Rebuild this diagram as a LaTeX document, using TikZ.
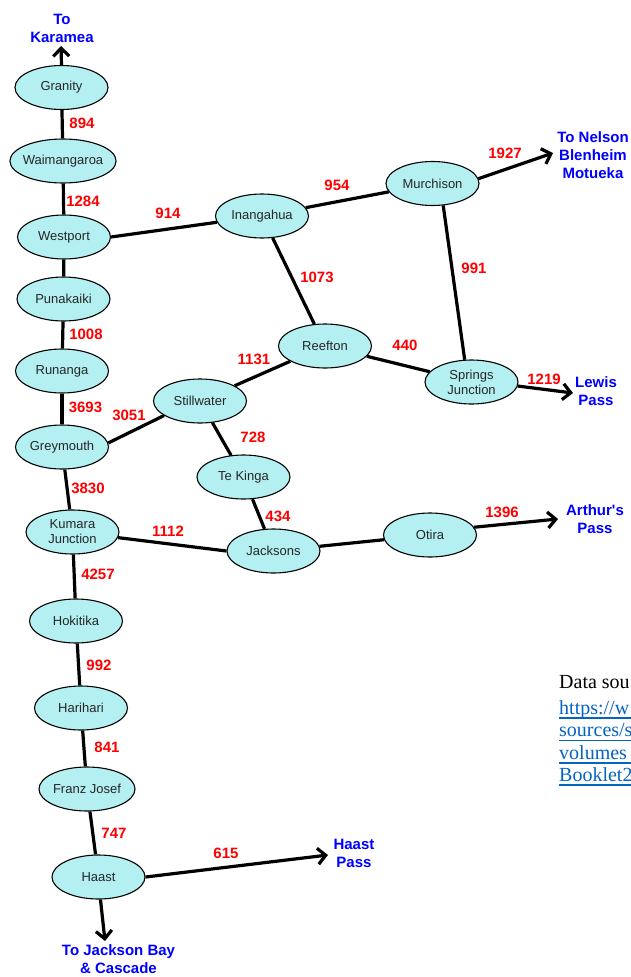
\documentclass[tikz,border=0pt]{standalone}
\usepackage{fontspec}
\setmainfont{Liberation Sans}
\newfontfamily\datafont{Liberation Serif}
\usetikzlibrary{shapes.geometric,arrows.meta}
\definecolor{nodefill}{RGB}{180,240,242}
\definecolor{numred}{RGB}{255,0,0}
\definecolor{dirblue}{RGB}{0,0,255}
\definecolor{linkblue}{RGB}{5,99,193}
\begin{document}
\begin{tikzpicture}[x=1pt,y=-1pt,
  town/.style={ellipse,draw=black,line width=1.1pt,fill=nodefill,minimum width=93pt,minimum height=44pt,inner sep=0pt,font=\fontsize{13}{15}\selectfont,align=center,text=black!85},
  road/.style={line width=3.2pt,draw=black},
  exitroad/.style={road,-{Straight Barb[length=8pt,width=16pt]}},
  count/.style={text=numred,font=\fontsize{15}{18}\selectfont\bfseries,inner sep=0pt},
  dest/.style={text=dirblue,font=\fontsize{15}{18}\selectfont\bfseries,align=center,inner sep=0pt},
  datatext/.style={font=\datafont\fontsize{20}{22}\selectfont,anchor=base west,inner sep=0pt},
  ulink/.style={draw=linkblue,line width=1.2pt}
]
\useasboundingbox (0,0) rectangle (631,977);
\coordinate (rightedge) at (631,0);

% towns
\node[town] (gran) at (61.5,87.5) {Granity};
\node[town,inner xsep=-2.7pt] (waim) at (63,161) {Waimangaroa};
\node[town] (west) at (64,237) {Westport};
\node[town] (puna) at (63.5,299) {Punakaiki};
\node[town] (runa) at (62,371) {Runanga};
\node[town] (grey) at (62,447) {Greymouth};
\node[town] (kuma) at (72.5,532) {Kumara\\Junction};
\node[town] (hoki) at (76,621) {Hokitika};
\node[town] (hari) at (81,708) {Harihari};
\node[town] (fran) at (87,789) {Franz Josef};
\node[town] (haas) at (98.5,877) {Haast};
\node[town] (inan) at (262,216) {Inangahua};
\node[town] (murc) at (432.5,183.5) {Murchison};
\node[town] (reef) at (325,346) {Reefton};
\node[town] (spri) at (471.5,382) {Springs\\Junction};
\node[town] (stil) at (200,401) {Stillwater};
\node[town] (teki) at (243.5,477) {Te Kinga};
\node[town] (jack) at (273.5,551) {Jacksons};
\node[town] (otir) at (430,535) {Otira};

% arrow ends
\coordinate (karamea) at (61,46);
\coordinate (nelson) at (553,153);
\coordinate (lewis) at (573,393);
\coordinate (arthur) at (558,519);
\coordinate (haastpass) at (328,855);
\coordinate (jacksonbay) at (105,941);

% roads
\draw[road] (gran) -- (waim);
\draw[road] (waim) -- (west);
\draw[road] (west) -- (puna);
\draw[road] (puna) -- (runa);
\draw[road] (runa) -- (grey);
\draw[road] (grey) -- (kuma);
\draw[road] (kuma) -- (hoki);
\draw[road] (hoki) -- (hari);
\draw[road] (hari) -- (fran);
\draw[road] (fran) -- (haas);
\draw[road] (west.east) -- (inan);
\draw[road] (inan) -- (murc);
\draw[road] (inan) -- (reef);
\draw[road] (murc.-64) -- (spri.107);
\draw[road] (reef) -- (spri);
\draw[road] (reef) -- (stil);
\draw[road] (stil.202) -- (grey.5);
\draw[road] (stil) -- (teki);
\draw[road] (teki) -- (jack);
\draw[road] (kuma) -- (jack.west);
\draw[road] (jack) -- (otir);

\draw[exitroad] (gran.north) -- (karamea);
\draw[exitroad] (murc.6) -- (nelson);
\draw[exitroad] (spri.-5) -- (lewis);
\draw[exitroad] (otir.10) -- (arthur);
\draw[exitroad] (haas.east) -- (haastpass);
\draw[exitroad] (haas.-85) -- (jacksonbay);

% counts
\node[count] (c894) at (82,123) {894};
\node[count] (c1284) at (83,201) {1284};
\node[count] (c1008) at (86,334) {1008};
\node[count] (c3693) at (85.5,407) {3693};
\node[count] (c3051) at (129,415) {3051};
\node[count] (c3830) at (88,488) {3830};
\node[count] (c1112) at (168,531) {1112};
\node[count] (c4257) at (98,574) {4257};
\node[count] (c992) at (99,665) {992};
\node[count] (c841) at (107,747) {841};
\node[count] (c747) at (114,833) {747};
\node[count] (c615) at (226,853) {615};
\node[count] (c914) at (168,213) {914};
\node[count] (c954) at (337,185) {954};
\node[count] (c1927) at (505,153) {1927};
\node[count] (c1073) at (317,277) {1073};
\node[count] (c991) at (474,268) {991};
\node[count] (c1131) at (254,359) {1131};
\node[count] (c440) at (405,345) {440};
\node[count] (c1219) at (544,379) {1219};
\node[count] (c728) at (253,437) {728};
\node[count] (c434) at (278,516) {434};
\node[count] (c1396) at (502,512) {1396};

% destinations
\node[dest] (dkaramea) at (62,28) {To\\Karamea};
\node[dest] (dnelson) at (593,155) {To Nelson\\Blenheim\\Motueka};
\node[dest] (dlewis) at (596,391) {Lewis\\Pass};
\node[dest] (darthur) at (595,519) {Arthur\textquotesingle s\\Pass};
\node[dest] (dhaast) at (354,853) {Haast\\Pass};
\node[dest] (djackson) at (118.5,959.5) {To Jackson Bay\\\& Cascade};

% data source
\node[datatext] (ds1) at (559,688) {Data sou};
\node[datatext,text=linkblue] (ds2) at (559,714) {https://w};
\node[datatext,text=linkblue] (ds3) at (559,736.5) {sources/s};
\node[datatext,text=linkblue] (ds4) at (559,759) {volumes};
\node[datatext,text=linkblue] (ds5) at (559,781) {Booklet2};
\foreach \n in {ds2,ds3,ds4,ds5}
  \draw[ulink] ([yshift=-4pt]\n.base west) -- ([yshift=-4pt]\n.base west -| rightedge);
\end{tikzpicture}
\end{document}
